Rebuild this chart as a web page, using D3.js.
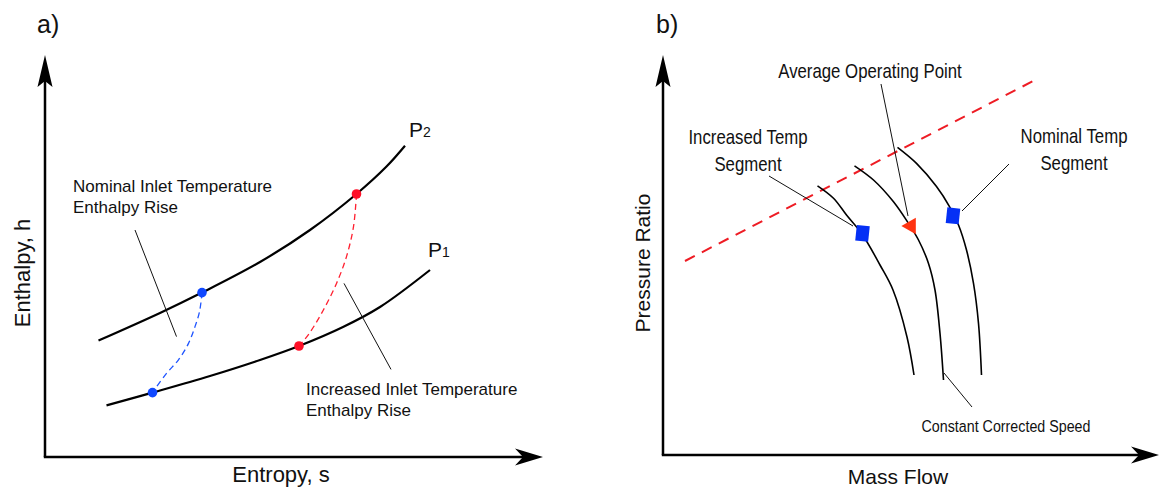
<!DOCTYPE html>
<html>
<head>
<meta charset="utf-8">
<script src="https://cdn.jsdelivr.net/npm/d3@7"></script>
<style>
  body { margin: 0; background: #fff; }
  svg { display: block; }
  .wide { font-family: "Liberation Sans", Arial, sans-serif; fill: #111; }
  .narrow { font-family: "Liberation Sans", Arial, sans-serif; fill: #111; }
</style>
</head>
<body>
<svg id="chart" width="1160" height="489"></svg>
<script>
// ---- panel a) enthalpy vs entropy (diagram units 0..100) ----
const p2Curve = [[10.7, 29.1], [23, 36], [31.4, 41.1], [43, 48.75], [53, 56.75], [62.3, 65.75], [68.3, 72.6], [72, 77.8]];
const p1Curve = [[12.3, 12.9], [21.5, 16.1], [33, 20.25], [43, 24.25], [50.8, 27.75], [59.6, 32.5], [67, 37.5], [77, 46.75]];
const nominalRise = [[31.4, 41.1], [30.9, 36.3], [30, 32.6], [28.7, 28.4], [26.7, 24.3], [24.3, 20.9], [21.5, 16.1]];
const increasedRise = [[62.3, 65.75], [61.7, 57.6], [60.3, 50.1], [58.3, 43.4], [55.7, 36.8], [52.8, 30.8], [50.8, 27.75]];
const nominalPoints = [[31.4, 41.1], [21.5, 16.1]];
const increasedPoints = [[62.3, 65.75], [50.8, 27.75]];
const isobarLabels = [
  { name: "P", sub: "2", at: [72.8, 80] },
  { name: "P", sub: "1", at: [76.6, 50] }
];
const aNotes = [
  { lines: ["Nominal Inlet Temperature", "Enthalpy Rise"], at: [5.6, 66.25], leader: [[18, 56.75], [26.3, 30.1]] },
  { lines: ["Increased Inlet Temperature", "Enthalpy Rise"], at: [52.2, 15.5], leader: [[59.8, 43.4], [69.2, 21.9]] }
];

// ---- panel b) pressure ratio vs mass flow ----
const surgeLine = [[4.4, 48.5], [75.2, 94.25]];
const speedLines = [
  [[30.9, 67.3], [34.1, 64.2], [36.7, 60], [39.8, 55.25], [43.4, 47.5], [46, 41.25], [48.8, 29.5], [50.2, 20]],
  [[38.3, 72.3], [42.1, 68.75], [46.1, 63.3], [49.1, 57.9], [51.1, 53.75], [53.1, 47.9], [54.4, 41.25], [55.4, 30.4], [56.1, 18.75]],
  [[46.9, 76.9], [50.7, 72.9], [54.7, 67.1], [57.3, 62.1], [59.1, 57.5], [60.7, 51.25], [62.1, 42.9], [63.1, 32.9], [63.7, 20]]
];
const segmentPoints = [[39.9, 55.4], [58, 59.8]];
const averagePoint = [49.6, 57.25];
const bNotes = [
  { lines: ["Average Operating Point"], at: [41.4, 94.25], size: 20, leader: [[43.6, 92.75], [49, 59.75]] },
  { lines: ["Increased Temp", "Segment"], at: [17, 77.75], size: 20, leader: [[21.2, 69.75], [38, 57.25]] },
  { lines: ["Nominal Temp", "Segment"], at: [82.2, 78], size: 20, leader: [[69.2, 72.75], [59.8, 61]] },
  { lines: ["Constant Corrected Speed"], at: [68.6, 5.75], size: 17, leader: [[56.2, 20.5], [61.8, 12]] }
];

const svg = d3.select("#chart");

// scales
const xA = d3.scaleLinear().domain([0, 100]).range([45, 545]);
const yA = d3.scaleLinear().domain([0, 100]).range([457, 57]);
const xB = d3.scaleLinear().domain([0, 100]).range([663, 1163]);
const yB = d3.scaleLinear().domain([0, 100]).range([455, 55]);

// axis with notched arrow heads
function arrowAxes(g, x, y, xEnd, yEnd) {
  const x0 = x(0), y0 = y(0), xt = x(xEnd), yt = y(yEnd);
  g.append("line").attr("x1", x0).attr("y1", y0).attr("x2", x0).attr("y2", yt + 20)
    .attr("stroke", "#000").attr("stroke-width", 2.5);
  g.append("line").attr("x1", x0 - 1.2).attr("y1", y0).attr("x2", xt - 20).attr("y2", y0)
    .attr("stroke", "#000").attr("stroke-width", 2.5);
  g.append("path")
    .attr("d", `M${x0},${yt} L${x0 + 7.5},${yt + 32} L${x0},${yt + 26} L${x0 - 7.5},${yt + 32} Z`)
    .attr("fill", "#000");
  g.append("path")
    .attr("d", `M${xt},${y0} L${xt - 28},${y0 + 8.5} L${xt - 20},${y0} L${xt - 28},${y0 - 8.5} Z`)
    .attr("fill", "#000");
}

function leader(g, x, y, pts) {
  g.append("line")
    .attr("x1", x(pts[0][0])).attr("y1", y(pts[0][1]))
    .attr("x2", x(pts[1][0])).attr("y2", y(pts[1][1]))
    .attr("stroke", "#111").attr("stroke-width", 1);
}

// ================= panel a =================
const ga = svg.append("g");
ga.append("text").attr("class", "wide").attr("x", 37).attr("y", 33)
  .attr("font-size", 25).text("a)");
arrowAxes(ga, xA, yA, 99.6, 100.5);

ga.append("text").attr("class", "wide").attr("font-size", 22)
  .attr("text-anchor", "middle")
  .attr("transform", `translate(30,273) rotate(-90)`)
  .text("Enthalpy, h");
ga.append("text").attr("class", "wide").attr("font-size", 22)
  .attr("text-anchor", "middle").attr("x", 281).attr("y", 482)
  .text("Entropy, s");

const lineA = d3.line().x(d => xA(d[0])).y(d => yA(d[1])).curve(d3.curveCatmullRom);

[p2Curve, p1Curve].forEach(c => {
  ga.append("path").attr("d", lineA(c)).attr("fill", "none")
    .attr("stroke", "#000").attr("stroke-width", 2.2);
});

ga.append("path").attr("d", lineA(nominalRise)).attr("fill", "none")
  .attr("stroke", "#1f55ff").attr("stroke-width", 1.3).attr("stroke-dasharray", "6,4");
ga.append("path").attr("d", lineA(increasedRise)).attr("fill", "none")
  .attr("stroke", "#ff2030").attr("stroke-width", 1.3).attr("stroke-dasharray", "6,4");

ga.selectAll(".nom").data(nominalPoints).enter().append("circle")
  .attr("cx", d => xA(d[0])).attr("cy", d => yA(d[1])).attr("r", 4.8)
  .attr("fill", "#1048ff");
ga.selectAll(".inc").data(increasedPoints).enter().append("circle")
  .attr("cx", d => xA(d[0])).attr("cy", d => yA(d[1])).attr("r", 4.8)
  .attr("fill", "#ff1028");

isobarLabels.forEach(d => {
  const t = ga.append("text").attr("class", "wide")
    .attr("x", xA(d.at[0])).attr("y", yA(d.at[1])).attr("font-size", 21);
  t.append("tspan").text(d.name);
  t.append("tspan").attr("font-size", 14).text(d.sub);
});

aNotes.forEach(n => {
  n.lines.forEach((s, i) => {
    ga.append("text").attr("class", "wide").attr("font-size", 17)
      .attr("x", xA(n.at[0])).attr("y", yA(n.at[1]) + i * 21).text(s);
  });
  leader(ga, xA, yA, n.leader);
});

// ================= panel b =================
const gb = svg.append("g");
gb.append("text").attr("class", "wide").attr("x", 656).attr("y", 33)
  .attr("font-size", 25).text("b)");
arrowAxes(gb, xB, yB, 99.2, 100);

gb.append("text").attr("class", "wide").attr("font-size", 21)
  .attr("text-anchor", "middle")
  .attr("transform", `translate(650,263) rotate(-90)`)
  .text("Pressure Ratio");
gb.append("text").attr("class", "wide").attr("font-size", 21)
  .attr("text-anchor", "middle").attr("x", 898).attr("y", 484)
  .text("Mass Flow");

const lineB = d3.line().x(d => xB(d[0])).y(d => yB(d[1])).curve(d3.curveCatmullRom);

gb.append("path").attr("d", lineB(surgeLine)).attr("fill", "none")
  .attr("stroke", "#ee1c24").attr("stroke-width", 2).attr("stroke-dasharray", "11,8");

speedLines.forEach(c => {
  gb.append("path").attr("d", lineB(c)).attr("fill", "none")
    .attr("stroke", "#000").attr("stroke-width", 1.6);
});

// condensed labels (no narrow font installed, so squeeze horizontally)
bNotes.forEach(n => {
  leader(gb, xB, yB, n.leader);
  n.lines.forEach((s, i) => {
    gb.append("text").attr("class", "narrow").attr("font-size", n.size)
      .attr("text-anchor", "middle")
      .attr("transform", `translate(${xB(n.at[0])},${yB(n.at[1]) + i * 27}) scale(0.84,1)`)
      .text(s);
  });
});

gb.selectAll(".seg").data(segmentPoints).enter().append("rect")
  .attr("x", -6.5).attr("y", -7.8).attr("width", 13).attr("height", 15.6)
  .attr("transform", d => `translate(${xB(d[0])},${yB(d[1])}) rotate(6)`)
  .attr("fill", "#0530f5");

gb.append("path")
  .attr("d", d3.symbol(d3.symbolTriangle, 120)())
  .attr("transform", `translate(${xB(averagePoint[0])},${yB(averagePoint[1])}) rotate(-90)`)
  .attr("fill", "#ff3311");
</script>
</body>
</html>
